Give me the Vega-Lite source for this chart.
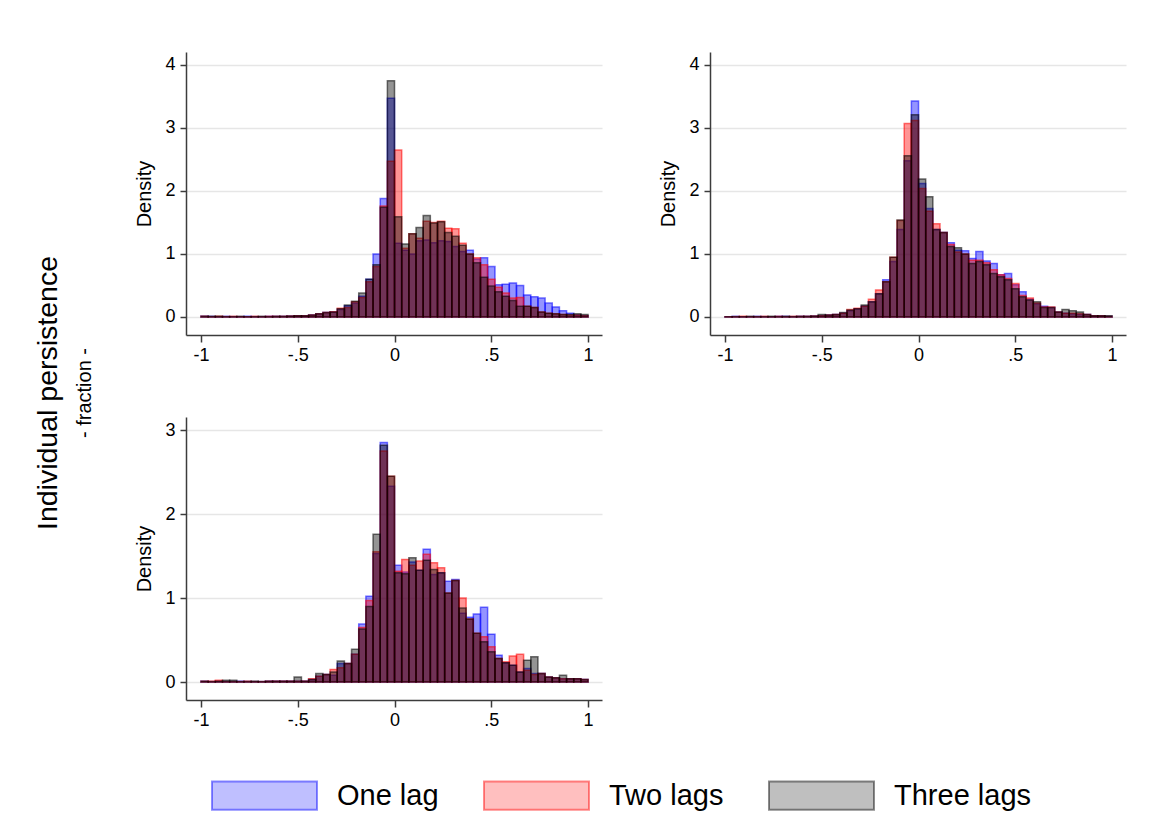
{
"$schema":"https://vega.github.io/schema/vega-lite/v6.json",
"background":"white",
"padding":{"left":34,"top":52,"right":5,"bottom":5},
"title":{"text":"Individual persistence","subtitle":"- fraction -","orient":"left","anchor":"middle","dx":40,"font":"Liberation Sans","fontSize":28.5,"fontWeight":"normal","color":"#000","subtitleFont":"Liberation Sans","subtitleFontSize":20,"subtitleColor":"#000","subtitlePadding":12,"offset":40},
"datasets":{
"p1":[
{"lag":"One lag","lo":-1,"hi":-0.963,"d":0.01},{"lag":"One lag","lo":-0.963,"hi":-0.926,"d":0.01},{"lag":"One lag","lo":-0.926,"hi":-0.889,"d":0.005},{"lag":"One lag","lo":-0.889,"hi":-0.852,"d":0.01},{"lag":"One lag","lo":-0.852,"hi":-0.815,"d":0.005},{"lag":"One lag","lo":-0.815,"hi":-0.778,"d":0.005},{"lag":"One lag","lo":-0.778,"hi":-0.741,"d":0.01},{"lag":"One lag","lo":-0.741,"hi":-0.704,"d":0.005},{"lag":"One lag","lo":-0.704,"hi":-0.667,"d":0.005},{"lag":"One lag","lo":-0.667,"hi":-0.63,"d":0.01},{"lag":"One lag","lo":-0.63,"hi":-0.593,"d":0.01},{"lag":"One lag","lo":-0.593,"hi":-0.556,"d":0.01},{"lag":"One lag","lo":-0.556,"hi":-0.519,"d":0.015},{"lag":"One lag","lo":-0.519,"hi":-0.481,"d":0.02},{"lag":"One lag","lo":-0.481,"hi":-0.444,"d":0.02},{"lag":"One lag","lo":-0.444,"hi":-0.407,"d":0.03},{"lag":"One lag","lo":-0.407,"hi":-0.37,"d":0.05},{"lag":"One lag","lo":-0.37,"hi":-0.333,"d":0.07},{"lag":"One lag","lo":-0.333,"hi":-0.296,"d":0.08},{"lag":"One lag","lo":-0.296,"hi":-0.259,"d":0.12},{"lag":"One lag","lo":-0.259,"hi":-0.222,"d":0.18},{"lag":"One lag","lo":-0.222,"hi":-0.185,"d":0.22},{"lag":"One lag","lo":-0.185,"hi":-0.148,"d":0.33},{"lag":"One lag","lo":-0.148,"hi":-0.111,"d":0.6},{"lag":"One lag","lo":-0.111,"hi":-0.074,"d":1.0},{"lag":"One lag","lo":-0.074,"hi":-0.037,"d":1.88},{"lag":"One lag","lo":-0.037,"hi":0,"d":3.47},{"lag":"One lag","lo":0,"hi":0.037,"d":1.17},{"lag":"One lag","lo":0.037,"hi":0.074,"d":1.06},{"lag":"One lag","lo":0.074,"hi":0.111,"d":1.0},{"lag":"One lag","lo":0.111,"hi":0.148,"d":1.21},{"lag":"One lag","lo":0.148,"hi":0.185,"d":1.22},{"lag":"One lag","lo":0.185,"hi":0.222,"d":1.18},{"lag":"One lag","lo":0.222,"hi":0.259,"d":1.21},{"lag":"One lag","lo":0.259,"hi":0.296,"d":1.2},{"lag":"One lag","lo":0.296,"hi":0.333,"d":1.12},{"lag":"One lag","lo":0.333,"hi":0.37,"d":1.04},{"lag":"One lag","lo":0.37,"hi":0.407,"d":1.06},{"lag":"One lag","lo":0.407,"hi":0.444,"d":0.92},{"lag":"One lag","lo":0.444,"hi":0.481,"d":0.94},{"lag":"One lag","lo":0.481,"hi":0.519,"d":0.8},{"lag":"One lag","lo":0.519,"hi":0.556,"d":0.51},{"lag":"One lag","lo":0.556,"hi":0.593,"d":0.52},{"lag":"One lag","lo":0.593,"hi":0.63,"d":0.54},{"lag":"One lag","lo":0.63,"hi":0.667,"d":0.5},{"lag":"One lag","lo":0.667,"hi":0.704,"d":0.35},{"lag":"One lag","lo":0.704,"hi":0.741,"d":0.32},{"lag":"One lag","lo":0.741,"hi":0.778,"d":0.3},{"lag":"One lag","lo":0.778,"hi":0.815,"d":0.22},{"lag":"One lag","lo":0.815,"hi":0.852,"d":0.16},{"lag":"One lag","lo":0.852,"hi":0.889,"d":0.1},{"lag":"One lag","lo":0.889,"hi":0.926,"d":0.06},{"lag":"One lag","lo":0.926,"hi":0.963,"d":0.03},{"lag":"One lag","lo":0.963,"hi":1,"d":0.02},
{"lag":"Two lags","lo":-1,"hi":-0.963,"d":0.01},{"lag":"Two lags","lo":-0.963,"hi":-0.926,"d":0.005},{"lag":"Two lags","lo":-0.926,"hi":-0.889,"d":0.01},{"lag":"Two lags","lo":-0.889,"hi":-0.852,"d":0.005},{"lag":"Two lags","lo":-0.852,"hi":-0.815,"d":0.01},{"lag":"Two lags","lo":-0.815,"hi":-0.778,"d":0.005},{"lag":"Two lags","lo":-0.778,"hi":-0.741,"d":0.005},{"lag":"Two lags","lo":-0.741,"hi":-0.704,"d":0.01},{"lag":"Two lags","lo":-0.704,"hi":-0.667,"d":0.005},{"lag":"Two lags","lo":-0.667,"hi":-0.63,"d":0.01},{"lag":"Two lags","lo":-0.63,"hi":-0.593,"d":0.01},{"lag":"Two lags","lo":-0.593,"hi":-0.556,"d":0.01},{"lag":"Two lags","lo":-0.556,"hi":-0.519,"d":0.015},{"lag":"Two lags","lo":-0.519,"hi":-0.481,"d":0.02},{"lag":"Two lags","lo":-0.481,"hi":-0.444,"d":0.02},{"lag":"Two lags","lo":-0.444,"hi":-0.407,"d":0.03},{"lag":"Two lags","lo":-0.407,"hi":-0.37,"d":0.05},{"lag":"Two lags","lo":-0.37,"hi":-0.333,"d":0.07},{"lag":"Two lags","lo":-0.333,"hi":-0.296,"d":0.085},{"lag":"Two lags","lo":-0.296,"hi":-0.259,"d":0.14},{"lag":"Two lags","lo":-0.259,"hi":-0.222,"d":0.15},{"lag":"Two lags","lo":-0.222,"hi":-0.185,"d":0.24},{"lag":"Two lags","lo":-0.185,"hi":-0.148,"d":0.31},{"lag":"Two lags","lo":-0.148,"hi":-0.111,"d":0.56},{"lag":"Two lags","lo":-0.111,"hi":-0.074,"d":0.8},{"lag":"Two lags","lo":-0.074,"hi":-0.037,"d":1.76},{"lag":"Two lags","lo":-0.037,"hi":0,"d":2.47},{"lag":"Two lags","lo":0,"hi":0.037,"d":2.65},{"lag":"Two lags","lo":0.037,"hi":0.074,"d":1.09},{"lag":"Two lags","lo":0.074,"hi":0.111,"d":1.32},{"lag":"Two lags","lo":0.111,"hi":0.148,"d":1.25},{"lag":"Two lags","lo":0.148,"hi":0.185,"d":1.52},{"lag":"Two lags","lo":0.185,"hi":0.222,"d":1.5},{"lag":"Two lags","lo":0.222,"hi":0.259,"d":1.52},{"lag":"Two lags","lo":0.259,"hi":0.296,"d":1.41},{"lag":"Two lags","lo":0.296,"hi":0.333,"d":1.4},{"lag":"Two lags","lo":0.333,"hi":0.37,"d":1.17},{"lag":"Two lags","lo":0.37,"hi":0.407,"d":1.0},{"lag":"Two lags","lo":0.407,"hi":0.444,"d":0.94},{"lag":"Two lags","lo":0.444,"hi":0.481,"d":0.83},{"lag":"Two lags","lo":0.481,"hi":0.519,"d":0.6},{"lag":"Two lags","lo":0.519,"hi":0.556,"d":0.47},{"lag":"Two lags","lo":0.556,"hi":0.593,"d":0.38},{"lag":"Two lags","lo":0.593,"hi":0.63,"d":0.3},{"lag":"Two lags","lo":0.63,"hi":0.667,"d":0.31},{"lag":"Two lags","lo":0.667,"hi":0.704,"d":0.17},{"lag":"Two lags","lo":0.704,"hi":0.741,"d":0.15},{"lag":"Two lags","lo":0.741,"hi":0.778,"d":0.08},{"lag":"Two lags","lo":0.778,"hi":0.815,"d":0.06},{"lag":"Two lags","lo":0.815,"hi":0.852,"d":0.05},{"lag":"Two lags","lo":0.852,"hi":0.889,"d":0.04},{"lag":"Two lags","lo":0.889,"hi":0.926,"d":0.03},{"lag":"Two lags","lo":0.926,"hi":0.963,"d":0.03},{"lag":"Two lags","lo":0.963,"hi":1,"d":0.02},
{"lag":"Three lags","lo":-1,"hi":-0.963,"d":0.01},{"lag":"Three lags","lo":-0.963,"hi":-0.926,"d":0.01},{"lag":"Three lags","lo":-0.926,"hi":-0.889,"d":0.01},{"lag":"Three lags","lo":-0.889,"hi":-0.852,"d":0.005},{"lag":"Three lags","lo":-0.852,"hi":-0.815,"d":0.005},{"lag":"Three lags","lo":-0.815,"hi":-0.778,"d":0.01},{"lag":"Three lags","lo":-0.778,"hi":-0.741,"d":0.005},{"lag":"Three lags","lo":-0.741,"hi":-0.704,"d":0.005},{"lag":"Three lags","lo":-0.704,"hi":-0.667,"d":0.01},{"lag":"Three lags","lo":-0.667,"hi":-0.63,"d":0.005},{"lag":"Three lags","lo":-0.63,"hi":-0.593,"d":0.01},{"lag":"Three lags","lo":-0.593,"hi":-0.556,"d":0.01},{"lag":"Three lags","lo":-0.556,"hi":-0.519,"d":0.015},{"lag":"Three lags","lo":-0.519,"hi":-0.481,"d":0.02},{"lag":"Three lags","lo":-0.481,"hi":-0.444,"d":0.02},{"lag":"Three lags","lo":-0.444,"hi":-0.407,"d":0.03},{"lag":"Three lags","lo":-0.407,"hi":-0.37,"d":0.05},{"lag":"Three lags","lo":-0.37,"hi":-0.333,"d":0.07},{"lag":"Three lags","lo":-0.333,"hi":-0.296,"d":0.08},{"lag":"Three lags","lo":-0.296,"hi":-0.259,"d":0.13},{"lag":"Three lags","lo":-0.259,"hi":-0.222,"d":0.19},{"lag":"Three lags","lo":-0.222,"hi":-0.185,"d":0.25},{"lag":"Three lags","lo":-0.185,"hi":-0.148,"d":0.38},{"lag":"Three lags","lo":-0.148,"hi":-0.111,"d":0.6},{"lag":"Three lags","lo":-0.111,"hi":-0.074,"d":0.83},{"lag":"Three lags","lo":-0.074,"hi":-0.037,"d":1.74},{"lag":"Three lags","lo":-0.037,"hi":0,"d":3.75},{"lag":"Three lags","lo":0,"hi":0.037,"d":1.59},{"lag":"Three lags","lo":0.037,"hi":0.074,"d":1.16},{"lag":"Three lags","lo":0.074,"hi":0.111,"d":1.32},{"lag":"Three lags","lo":0.111,"hi":0.148,"d":1.42},{"lag":"Three lags","lo":0.148,"hi":0.185,"d":1.61},{"lag":"Three lags","lo":0.185,"hi":0.222,"d":1.49},{"lag":"Three lags","lo":0.222,"hi":0.259,"d":1.51},{"lag":"Three lags","lo":0.259,"hi":0.296,"d":1.34},{"lag":"Three lags","lo":0.296,"hi":0.333,"d":1.28},{"lag":"Three lags","lo":0.333,"hi":0.37,"d":1.14},{"lag":"Three lags","lo":0.37,"hi":0.407,"d":1.0},{"lag":"Three lags","lo":0.407,"hi":0.444,"d":0.86},{"lag":"Three lags","lo":0.444,"hi":0.481,"d":0.63},{"lag":"Three lags","lo":0.481,"hi":0.519,"d":0.49},{"lag":"Three lags","lo":0.519,"hi":0.556,"d":0.4},{"lag":"Three lags","lo":0.556,"hi":0.593,"d":0.33},{"lag":"Three lags","lo":0.593,"hi":0.63,"d":0.26},{"lag":"Three lags","lo":0.63,"hi":0.667,"d":0.17},{"lag":"Three lags","lo":0.667,"hi":0.704,"d":0.17},{"lag":"Three lags","lo":0.704,"hi":0.741,"d":0.15},{"lag":"Three lags","lo":0.741,"hi":0.778,"d":0.08},{"lag":"Three lags","lo":0.778,"hi":0.815,"d":0.06},{"lag":"Three lags","lo":0.815,"hi":0.852,"d":0.05},{"lag":"Three lags","lo":0.852,"hi":0.889,"d":0.04},{"lag":"Three lags","lo":0.889,"hi":0.926,"d":0.04},{"lag":"Three lags","lo":0.926,"hi":0.963,"d":0.05},{"lag":"Three lags","lo":0.963,"hi":1,"d":0.04}
],
"p2":[
{"lag":"One lag","lo":-1,"hi":-0.963,"d":0.005},{"lag":"One lag","lo":-0.963,"hi":-0.926,"d":0.01},{"lag":"One lag","lo":-0.926,"hi":-0.889,"d":0.005},{"lag":"One lag","lo":-0.889,"hi":-0.852,"d":0.005},{"lag":"One lag","lo":-0.852,"hi":-0.815,"d":0.01},{"lag":"One lag","lo":-0.815,"hi":-0.778,"d":0.005},{"lag":"One lag","lo":-0.778,"hi":-0.741,"d":0.005},{"lag":"One lag","lo":-0.741,"hi":-0.704,"d":0.01},{"lag":"One lag","lo":-0.704,"hi":-0.667,"d":0.01},{"lag":"One lag","lo":-0.667,"hi":-0.63,"d":0.005},{"lag":"One lag","lo":-0.63,"hi":-0.593,"d":0.01},{"lag":"One lag","lo":-0.593,"hi":-0.556,"d":0.01},{"lag":"One lag","lo":-0.556,"hi":-0.519,"d":0.015},{"lag":"One lag","lo":-0.519,"hi":-0.481,"d":0.02},{"lag":"One lag","lo":-0.481,"hi":-0.444,"d":0.03},{"lag":"One lag","lo":-0.444,"hi":-0.407,"d":0.04},{"lag":"One lag","lo":-0.407,"hi":-0.37,"d":0.06},{"lag":"One lag","lo":-0.37,"hi":-0.333,"d":0.1},{"lag":"One lag","lo":-0.333,"hi":-0.296,"d":0.13},{"lag":"One lag","lo":-0.296,"hi":-0.259,"d":0.17},{"lag":"One lag","lo":-0.259,"hi":-0.222,"d":0.24},{"lag":"One lag","lo":-0.222,"hi":-0.185,"d":0.37},{"lag":"One lag","lo":-0.185,"hi":-0.148,"d":0.59},{"lag":"One lag","lo":-0.148,"hi":-0.111,"d":0.88},{"lag":"One lag","lo":-0.111,"hi":-0.074,"d":1.39},{"lag":"One lag","lo":-0.074,"hi":-0.037,"d":2.48},{"lag":"One lag","lo":-0.037,"hi":0,"d":3.43},{"lag":"One lag","lo":0,"hi":0.037,"d":2.12},{"lag":"One lag","lo":0.037,"hi":0.074,"d":1.72},{"lag":"One lag","lo":0.074,"hi":0.111,"d":1.39},{"lag":"One lag","lo":0.111,"hi":0.148,"d":1.34},{"lag":"One lag","lo":0.148,"hi":0.185,"d":1.18},{"lag":"One lag","lo":0.185,"hi":0.222,"d":1.06},{"lag":"One lag","lo":0.222,"hi":0.259,"d":1.05},{"lag":"One lag","lo":0.259,"hi":0.296,"d":0.93},{"lag":"One lag","lo":0.296,"hi":0.333,"d":1.04},{"lag":"One lag","lo":0.333,"hi":0.37,"d":0.89},{"lag":"One lag","lo":0.37,"hi":0.407,"d":0.85},{"lag":"One lag","lo":0.407,"hi":0.444,"d":0.67},{"lag":"One lag","lo":0.444,"hi":0.481,"d":0.69},{"lag":"One lag","lo":0.481,"hi":0.519,"d":0.51},{"lag":"One lag","lo":0.519,"hi":0.556,"d":0.4},{"lag":"One lag","lo":0.556,"hi":0.593,"d":0.28},{"lag":"One lag","lo":0.593,"hi":0.63,"d":0.21},{"lag":"One lag","lo":0.63,"hi":0.667,"d":0.17},{"lag":"One lag","lo":0.667,"hi":0.704,"d":0.15},{"lag":"One lag","lo":0.704,"hi":0.741,"d":0.08},{"lag":"One lag","lo":0.741,"hi":0.778,"d":0.06},{"lag":"One lag","lo":0.778,"hi":0.815,"d":0.05},{"lag":"One lag","lo":0.815,"hi":0.852,"d":0.04},{"lag":"One lag","lo":0.852,"hi":0.889,"d":0.04},{"lag":"One lag","lo":0.889,"hi":0.926,"d":0.02},{"lag":"One lag","lo":0.926,"hi":0.963,"d":0.02},{"lag":"One lag","lo":0.963,"hi":1,"d":0.01},
{"lag":"Two lags","lo":-1,"hi":-0.963,"d":0.005},{"lag":"Two lags","lo":-0.963,"hi":-0.926,"d":0.005},{"lag":"Two lags","lo":-0.926,"hi":-0.889,"d":0.01},{"lag":"Two lags","lo":-0.889,"hi":-0.852,"d":0.005},{"lag":"Two lags","lo":-0.852,"hi":-0.815,"d":0.005},{"lag":"Two lags","lo":-0.815,"hi":-0.778,"d":0.01},{"lag":"Two lags","lo":-0.778,"hi":-0.741,"d":0.005},{"lag":"Two lags","lo":-0.741,"hi":-0.704,"d":0.01},{"lag":"Two lags","lo":-0.704,"hi":-0.667,"d":0.005},{"lag":"Two lags","lo":-0.667,"hi":-0.63,"d":0.01},{"lag":"Two lags","lo":-0.63,"hi":-0.593,"d":0.01},{"lag":"Two lags","lo":-0.593,"hi":-0.556,"d":0.01},{"lag":"Two lags","lo":-0.556,"hi":-0.519,"d":0.015},{"lag":"Two lags","lo":-0.519,"hi":-0.481,"d":0.02},{"lag":"Two lags","lo":-0.481,"hi":-0.444,"d":0.03},{"lag":"Two lags","lo":-0.444,"hi":-0.407,"d":0.04},{"lag":"Two lags","lo":-0.407,"hi":-0.37,"d":0.06},{"lag":"Two lags","lo":-0.37,"hi":-0.333,"d":0.12},{"lag":"Two lags","lo":-0.333,"hi":-0.296,"d":0.14},{"lag":"Two lags","lo":-0.296,"hi":-0.259,"d":0.17},{"lag":"Two lags","lo":-0.259,"hi":-0.222,"d":0.28},{"lag":"Two lags","lo":-0.222,"hi":-0.185,"d":0.43},{"lag":"Two lags","lo":-0.185,"hi":-0.148,"d":0.56},{"lag":"Two lags","lo":-0.148,"hi":-0.111,"d":0.95},{"lag":"Two lags","lo":-0.111,"hi":-0.074,"d":1.53},{"lag":"Two lags","lo":-0.074,"hi":-0.037,"d":3.07},{"lag":"Two lags","lo":-0.037,"hi":0,"d":3.12},{"lag":"Two lags","lo":0,"hi":0.037,"d":2.04},{"lag":"Two lags","lo":0.037,"hi":0.074,"d":1.68},{"lag":"Two lags","lo":0.074,"hi":0.111,"d":1.48},{"lag":"Two lags","lo":0.111,"hi":0.148,"d":1.34},{"lag":"Two lags","lo":0.148,"hi":0.185,"d":1.15},{"lag":"Two lags","lo":0.185,"hi":0.222,"d":1.03},{"lag":"Two lags","lo":0.222,"hi":0.259,"d":1.0},{"lag":"Two lags","lo":0.259,"hi":0.296,"d":0.9},{"lag":"Two lags","lo":0.296,"hi":0.333,"d":0.9},{"lag":"Two lags","lo":0.333,"hi":0.37,"d":0.86},{"lag":"Two lags","lo":0.37,"hi":0.407,"d":0.75},{"lag":"Two lags","lo":0.407,"hi":0.444,"d":0.67},{"lag":"Two lags","lo":0.444,"hi":0.481,"d":0.61},{"lag":"Two lags","lo":0.481,"hi":0.519,"d":0.53},{"lag":"Two lags","lo":0.519,"hi":0.556,"d":0.34},{"lag":"Two lags","lo":0.556,"hi":0.593,"d":0.3},{"lag":"Two lags","lo":0.593,"hi":0.63,"d":0.22},{"lag":"Two lags","lo":0.63,"hi":0.667,"d":0.16},{"lag":"Two lags","lo":0.667,"hi":0.704,"d":0.16},{"lag":"Two lags","lo":0.704,"hi":0.741,"d":0.08},{"lag":"Two lags","lo":0.741,"hi":0.778,"d":0.06},{"lag":"Two lags","lo":0.778,"hi":0.815,"d":0.06},{"lag":"Two lags","lo":0.815,"hi":0.852,"d":0.05},{"lag":"Two lags","lo":0.852,"hi":0.889,"d":0.04},{"lag":"Two lags","lo":0.889,"hi":0.926,"d":0.02},{"lag":"Two lags","lo":0.926,"hi":0.963,"d":0.02},{"lag":"Two lags","lo":0.963,"hi":1,"d":0.01},
{"lag":"Three lags","lo":-1,"hi":-0.963,"d":0.005},{"lag":"Three lags","lo":-0.963,"hi":-0.926,"d":0.005},{"lag":"Three lags","lo":-0.926,"hi":-0.889,"d":0.005},{"lag":"Three lags","lo":-0.889,"hi":-0.852,"d":0.01},{"lag":"Three lags","lo":-0.852,"hi":-0.815,"d":0.005},{"lag":"Three lags","lo":-0.815,"hi":-0.778,"d":0.005},{"lag":"Three lags","lo":-0.778,"hi":-0.741,"d":0.01},{"lag":"Three lags","lo":-0.741,"hi":-0.704,"d":0.005},{"lag":"Three lags","lo":-0.704,"hi":-0.667,"d":0.01},{"lag":"Three lags","lo":-0.667,"hi":-0.63,"d":0.005},{"lag":"Three lags","lo":-0.63,"hi":-0.593,"d":0.01},{"lag":"Three lags","lo":-0.593,"hi":-0.556,"d":0.01},{"lag":"Three lags","lo":-0.556,"hi":-0.519,"d":0.015},{"lag":"Three lags","lo":-0.519,"hi":-0.481,"d":0.04},{"lag":"Three lags","lo":-0.481,"hi":-0.444,"d":0.03},{"lag":"Three lags","lo":-0.444,"hi":-0.407,"d":0.04},{"lag":"Three lags","lo":-0.407,"hi":-0.37,"d":0.07},{"lag":"Three lags","lo":-0.37,"hi":-0.333,"d":0.11},{"lag":"Three lags","lo":-0.333,"hi":-0.296,"d":0.13},{"lag":"Three lags","lo":-0.296,"hi":-0.259,"d":0.19},{"lag":"Three lags","lo":-0.259,"hi":-0.222,"d":0.24},{"lag":"Three lags","lo":-0.222,"hi":-0.185,"d":0.37},{"lag":"Three lags","lo":-0.185,"hi":-0.148,"d":0.56},{"lag":"Three lags","lo":-0.148,"hi":-0.111,"d":0.95},{"lag":"Three lags","lo":-0.111,"hi":-0.074,"d":1.54},{"lag":"Three lags","lo":-0.074,"hi":-0.037,"d":2.56},{"lag":"Three lags","lo":-0.037,"hi":0,"d":3.21},{"lag":"Three lags","lo":0,"hi":0.037,"d":2.19},{"lag":"Three lags","lo":0.037,"hi":0.074,"d":1.91},{"lag":"Three lags","lo":0.074,"hi":0.111,"d":1.39},{"lag":"Three lags","lo":0.111,"hi":0.148,"d":1.34},{"lag":"Three lags","lo":0.148,"hi":0.185,"d":1.12},{"lag":"Three lags","lo":0.185,"hi":0.222,"d":1.1},{"lag":"Three lags","lo":0.222,"hi":0.259,"d":1.0},{"lag":"Three lags","lo":0.259,"hi":0.296,"d":0.85},{"lag":"Three lags","lo":0.296,"hi":0.333,"d":0.88},{"lag":"Three lags","lo":0.333,"hi":0.37,"d":0.83},{"lag":"Three lags","lo":0.37,"hi":0.407,"d":0.69},{"lag":"Three lags","lo":0.407,"hi":0.444,"d":0.64},{"lag":"Three lags","lo":0.444,"hi":0.481,"d":0.59},{"lag":"Three lags","lo":0.481,"hi":0.519,"d":0.45},{"lag":"Three lags","lo":0.519,"hi":0.556,"d":0.32},{"lag":"Three lags","lo":0.556,"hi":0.593,"d":0.27},{"lag":"Three lags","lo":0.593,"hi":0.63,"d":0.24},{"lag":"Three lags","lo":0.63,"hi":0.667,"d":0.15},{"lag":"Three lags","lo":0.667,"hi":0.704,"d":0.15},{"lag":"Three lags","lo":0.704,"hi":0.741,"d":0.08},{"lag":"Three lags","lo":0.741,"hi":0.778,"d":0.12},{"lag":"Three lags","lo":0.778,"hi":0.815,"d":0.1},{"lag":"Three lags","lo":0.815,"hi":0.852,"d":0.08},{"lag":"Three lags","lo":0.852,"hi":0.889,"d":0.04},{"lag":"Three lags","lo":0.889,"hi":0.926,"d":0.02},{"lag":"Three lags","lo":0.926,"hi":0.963,"d":0.02},{"lag":"Three lags","lo":0.963,"hi":1,"d":0.02}
],
"p3":[
{"lag":"One lag","lo":-1,"hi":-0.963,"d":0.01},{"lag":"One lag","lo":-0.963,"hi":-0.926,"d":0.005},{"lag":"One lag","lo":-0.926,"hi":-0.889,"d":0.01},{"lag":"One lag","lo":-0.889,"hi":-0.852,"d":0.005},{"lag":"One lag","lo":-0.852,"hi":-0.815,"d":0.005},{"lag":"One lag","lo":-0.815,"hi":-0.778,"d":0.01},{"lag":"One lag","lo":-0.778,"hi":-0.741,"d":0.005},{"lag":"One lag","lo":-0.741,"hi":-0.704,"d":0.005},{"lag":"One lag","lo":-0.704,"hi":-0.667,"d":0.005},{"lag":"One lag","lo":-0.667,"hi":-0.63,"d":0.01},{"lag":"One lag","lo":-0.63,"hi":-0.593,"d":0.01},{"lag":"One lag","lo":-0.593,"hi":-0.556,"d":0.01},{"lag":"One lag","lo":-0.556,"hi":-0.519,"d":0.01},{"lag":"One lag","lo":-0.519,"hi":-0.481,"d":0.01},{"lag":"One lag","lo":-0.481,"hi":-0.444,"d":0.01},{"lag":"One lag","lo":-0.444,"hi":-0.407,"d":0.03},{"lag":"One lag","lo":-0.407,"hi":-0.37,"d":0.07},{"lag":"One lag","lo":-0.37,"hi":-0.333,"d":0.09},{"lag":"One lag","lo":-0.333,"hi":-0.296,"d":0.08},{"lag":"One lag","lo":-0.296,"hi":-0.259,"d":0.22},{"lag":"One lag","lo":-0.259,"hi":-0.222,"d":0.22},{"lag":"One lag","lo":-0.222,"hi":-0.185,"d":0.33},{"lag":"One lag","lo":-0.185,"hi":-0.148,"d":0.69},{"lag":"One lag","lo":-0.148,"hi":-0.111,"d":1.02},{"lag":"One lag","lo":-0.111,"hi":-0.074,"d":1.53},{"lag":"One lag","lo":-0.074,"hi":-0.037,"d":2.85},{"lag":"One lag","lo":-0.037,"hi":0,"d":2.33},{"lag":"One lag","lo":0,"hi":0.037,"d":1.39},{"lag":"One lag","lo":0.037,"hi":0.074,"d":1.31},{"lag":"One lag","lo":0.074,"hi":0.111,"d":1.43},{"lag":"One lag","lo":0.111,"hi":0.148,"d":1.33},{"lag":"One lag","lo":0.148,"hi":0.185,"d":1.58},{"lag":"One lag","lo":0.185,"hi":0.222,"d":1.28},{"lag":"One lag","lo":0.222,"hi":0.259,"d":1.3},{"lag":"One lag","lo":0.259,"hi":0.296,"d":1.2},{"lag":"One lag","lo":0.296,"hi":0.333,"d":1.22},{"lag":"One lag","lo":0.333,"hi":0.37,"d":0.82},{"lag":"One lag","lo":0.37,"hi":0.407,"d":0.77},{"lag":"One lag","lo":0.407,"hi":0.444,"d":0.81},{"lag":"One lag","lo":0.444,"hi":0.481,"d":0.89},{"lag":"One lag","lo":0.481,"hi":0.519,"d":0.57},{"lag":"One lag","lo":0.519,"hi":0.556,"d":0.32},{"lag":"One lag","lo":0.556,"hi":0.593,"d":0.23},{"lag":"One lag","lo":0.593,"hi":0.63,"d":0.2},{"lag":"One lag","lo":0.63,"hi":0.667,"d":0.12},{"lag":"One lag","lo":0.667,"hi":0.704,"d":0.16},{"lag":"One lag","lo":0.704,"hi":0.741,"d":0.1},{"lag":"One lag","lo":0.741,"hi":0.778,"d":0.1},{"lag":"One lag","lo":0.778,"hi":0.815,"d":0.06},{"lag":"One lag","lo":0.815,"hi":0.852,"d":0.05},{"lag":"One lag","lo":0.852,"hi":0.889,"d":0.04},{"lag":"One lag","lo":0.889,"hi":0.926,"d":0.04},{"lag":"One lag","lo":0.926,"hi":0.963,"d":0.04},{"lag":"One lag","lo":0.963,"hi":1,"d":0.03},
{"lag":"Two lags","lo":-1,"hi":-0.963,"d":0.01},{"lag":"Two lags","lo":-0.963,"hi":-0.926,"d":0.01},{"lag":"Two lags","lo":-0.926,"hi":-0.889,"d":0.02},{"lag":"Two lags","lo":-0.889,"hi":-0.852,"d":0.005},{"lag":"Two lags","lo":-0.852,"hi":-0.815,"d":0.005},{"lag":"Two lags","lo":-0.815,"hi":-0.778,"d":0.005},{"lag":"Two lags","lo":-0.778,"hi":-0.741,"d":0.01},{"lag":"Two lags","lo":-0.741,"hi":-0.704,"d":0.005},{"lag":"Two lags","lo":-0.704,"hi":-0.667,"d":0.005},{"lag":"Two lags","lo":-0.667,"hi":-0.63,"d":0.01},{"lag":"Two lags","lo":-0.63,"hi":-0.593,"d":0.01},{"lag":"Two lags","lo":-0.593,"hi":-0.556,"d":0.01},{"lag":"Two lags","lo":-0.556,"hi":-0.519,"d":0.01},{"lag":"Two lags","lo":-0.519,"hi":-0.481,"d":0.01},{"lag":"Two lags","lo":-0.481,"hi":-0.444,"d":0.01},{"lag":"Two lags","lo":-0.444,"hi":-0.407,"d":0.04},{"lag":"Two lags","lo":-0.407,"hi":-0.37,"d":0.07},{"lag":"Two lags","lo":-0.37,"hi":-0.333,"d":0.09},{"lag":"Two lags","lo":-0.333,"hi":-0.296,"d":0.15},{"lag":"Two lags","lo":-0.296,"hi":-0.259,"d":0.17},{"lag":"Two lags","lo":-0.259,"hi":-0.222,"d":0.22},{"lag":"Two lags","lo":-0.222,"hi":-0.185,"d":0.33},{"lag":"Two lags","lo":-0.185,"hi":-0.148,"d":0.65},{"lag":"Two lags","lo":-0.148,"hi":-0.111,"d":0.97},{"lag":"Two lags","lo":-0.111,"hi":-0.074,"d":1.55},{"lag":"Two lags","lo":-0.074,"hi":-0.037,"d":2.75},{"lag":"Two lags","lo":-0.037,"hi":0,"d":2.45},{"lag":"Two lags","lo":0,"hi":0.037,"d":1.32},{"lag":"Two lags","lo":0.037,"hi":0.074,"d":1.46},{"lag":"Two lags","lo":0.074,"hi":0.111,"d":1.39},{"lag":"Two lags","lo":0.111,"hi":0.148,"d":1.44},{"lag":"Two lags","lo":0.148,"hi":0.185,"d":1.52},{"lag":"Two lags","lo":0.185,"hi":0.222,"d":1.42},{"lag":"Two lags","lo":0.222,"hi":0.259,"d":1.36},{"lag":"Two lags","lo":0.259,"hi":0.296,"d":1.06},{"lag":"Two lags","lo":0.296,"hi":0.333,"d":1.21},{"lag":"Two lags","lo":0.333,"hi":0.37,"d":1.0},{"lag":"Two lags","lo":0.37,"hi":0.407,"d":0.75},{"lag":"Two lags","lo":0.407,"hi":0.444,"d":0.58},{"lag":"Two lags","lo":0.444,"hi":0.481,"d":0.54},{"lag":"Two lags","lo":0.481,"hi":0.519,"d":0.42},{"lag":"Two lags","lo":0.519,"hi":0.556,"d":0.28},{"lag":"Two lags","lo":0.556,"hi":0.593,"d":0.24},{"lag":"Two lags","lo":0.593,"hi":0.63,"d":0.31},{"lag":"Two lags","lo":0.63,"hi":0.667,"d":0.33},{"lag":"Two lags","lo":0.667,"hi":0.704,"d":0.14},{"lag":"Two lags","lo":0.704,"hi":0.741,"d":0.09},{"lag":"Two lags","lo":0.741,"hi":0.778,"d":0.1},{"lag":"Two lags","lo":0.778,"hi":0.815,"d":0.06},{"lag":"Two lags","lo":0.815,"hi":0.852,"d":0.05},{"lag":"Two lags","lo":0.852,"hi":0.889,"d":0.04},{"lag":"Two lags","lo":0.889,"hi":0.926,"d":0.04},{"lag":"Two lags","lo":0.926,"hi":0.963,"d":0.04},{"lag":"Two lags","lo":0.963,"hi":1,"d":0.03},
{"lag":"Three lags","lo":-1,"hi":-0.963,"d":0.01},{"lag":"Three lags","lo":-0.963,"hi":-0.926,"d":0.005},{"lag":"Three lags","lo":-0.926,"hi":-0.889,"d":0.01},{"lag":"Three lags","lo":-0.889,"hi":-0.852,"d":0.02},{"lag":"Three lags","lo":-0.852,"hi":-0.815,"d":0.02},{"lag":"Three lags","lo":-0.815,"hi":-0.778,"d":0.005},{"lag":"Three lags","lo":-0.778,"hi":-0.741,"d":0.005},{"lag":"Three lags","lo":-0.741,"hi":-0.704,"d":0.01},{"lag":"Three lags","lo":-0.704,"hi":-0.667,"d":0.005},{"lag":"Three lags","lo":-0.667,"hi":-0.63,"d":0.01},{"lag":"Three lags","lo":-0.63,"hi":-0.593,"d":0.01},{"lag":"Three lags","lo":-0.593,"hi":-0.556,"d":0.01},{"lag":"Three lags","lo":-0.556,"hi":-0.519,"d":0.01},{"lag":"Three lags","lo":-0.519,"hi":-0.481,"d":0.06},{"lag":"Three lags","lo":-0.481,"hi":-0.444,"d":0.01},{"lag":"Three lags","lo":-0.444,"hi":-0.407,"d":0.03},{"lag":"Three lags","lo":-0.407,"hi":-0.37,"d":0.1},{"lag":"Three lags","lo":-0.37,"hi":-0.333,"d":0.09},{"lag":"Three lags","lo":-0.333,"hi":-0.296,"d":0.12},{"lag":"Three lags","lo":-0.296,"hi":-0.259,"d":0.25},{"lag":"Three lags","lo":-0.259,"hi":-0.222,"d":0.22},{"lag":"Three lags","lo":-0.222,"hi":-0.185,"d":0.39},{"lag":"Three lags","lo":-0.185,"hi":-0.148,"d":0.63},{"lag":"Three lags","lo":-0.148,"hi":-0.111,"d":0.9},{"lag":"Three lags","lo":-0.111,"hi":-0.074,"d":1.76},{"lag":"Three lags","lo":-0.074,"hi":-0.037,"d":2.82},{"lag":"Three lags","lo":-0.037,"hi":0,"d":2.45},{"lag":"Three lags","lo":0,"hi":0.037,"d":1.3},{"lag":"Three lags","lo":0.037,"hi":0.074,"d":1.29},{"lag":"Three lags","lo":0.074,"hi":0.111,"d":1.48},{"lag":"Three lags","lo":0.111,"hi":0.148,"d":1.33},{"lag":"Three lags","lo":0.148,"hi":0.185,"d":1.45},{"lag":"Three lags","lo":0.185,"hi":0.222,"d":1.34},{"lag":"Three lags","lo":0.222,"hi":0.259,"d":1.3},{"lag":"Three lags","lo":0.259,"hi":0.296,"d":1.06},{"lag":"Three lags","lo":0.296,"hi":0.333,"d":1.21},{"lag":"Three lags","lo":0.333,"hi":0.37,"d":0.88},{"lag":"Three lags","lo":0.37,"hi":0.407,"d":0.75},{"lag":"Three lags","lo":0.407,"hi":0.444,"d":0.58},{"lag":"Three lags","lo":0.444,"hi":0.481,"d":0.48},{"lag":"Three lags","lo":0.481,"hi":0.519,"d":0.36},{"lag":"Three lags","lo":0.519,"hi":0.556,"d":0.28},{"lag":"Three lags","lo":0.556,"hi":0.593,"d":0.23},{"lag":"Three lags","lo":0.593,"hi":0.63,"d":0.2},{"lag":"Three lags","lo":0.63,"hi":0.667,"d":0.12},{"lag":"Three lags","lo":0.667,"hi":0.704,"d":0.26},{"lag":"Three lags","lo":0.704,"hi":0.741,"d":0.3},{"lag":"Three lags","lo":0.741,"hi":0.778,"d":0.1},{"lag":"Three lags","lo":0.778,"hi":0.815,"d":0.06},{"lag":"Three lags","lo":0.815,"hi":0.852,"d":0.05},{"lag":"Three lags","lo":0.852,"hi":0.889,"d":0.08},{"lag":"Three lags","lo":0.889,"hi":0.926,"d":0.04},{"lag":"Three lags","lo":0.926,"hi":0.963,"d":0.04},{"lag":"Three lags","lo":0.963,"hi":1,"d":0.03}
]
},
"config":{
"view":{"stroke":null},
"font":"Liberation Sans",
"axis":{"labelFont":"Liberation Sans","titleFont":"Liberation Sans","labelColor":"#000","titleColor":"#000","domainColor":"#3c3c3c","tickColor":"#3c3c3c","domainWidth":1.5,"tickWidth":1.5,"labelFontSize":18,"titleFontSize":20,"titleFontWeight":"normal","gridColor":"#e6e6e6","gridWidth":1.5},
"legend":{"labelFont":"Liberation Sans","labelFontSize":29,"labelColor":"#000","symbolType":"M-1,-0.27H1V0.27H-1Z","symbolSize":11025,"symbolStrokeWidth":2,"labelOffset":19,"columnPadding":41,"direction":"horizontal","orient":"none","padding":0}
},
"vconcat":[
{"hconcat":[
{"width":416,"height":283,"data":{"name":"p1"},
"mark":{"type":"bar","fillOpacity":0.42,"strokeOpacity":0.55,"strokeWidth":1.5},
"encoding":{
"x":{"field":"lo","type":"quantitative","scale":{"domain":[-1.0775,1.072],"nice":false,"zero":false},"axis":{"values":[-1,-0.5,0,0.5,1],"labelExpr":"datum.value == 0 ? '0' : datum.value == 1 ? '1' : datum.value == -1 ? '-1' : datum.value == 0.5 ? '.5' : '-.5'","title":null,"grid":false,"tickSize":7,"labelPadding":4}},
"x2":{"field":"hi"},
"y":{"field":"d","type":"quantitative","scale":{"domain":[-0.286,4.206],"nice":false,"zero":false},"axis":{"values":[0,1,2,3,4],"title":"Density","grid":true,"tickSize":6,"labelPadding":5,"titlePadding":10,"labelAngle":0}},
"y2":{"datum":0},
"fill":{"field":"lag","type":"nominal","scale":{"domain":["One lag","Two lags","Three lags"],"range":["#0000ff","#ff0000","#000000"]},"legend":{"title":null,"legendX":25,"legendY":690,"encode":{"symbols":{"update":{"fillOpacity":{"value":0.25},"strokeOpacity":{"value":0.45}}}}}},
"stroke":{"field":"lag","type":"nominal","scale":{"domain":["One lag","Two lags","Three lags"],"range":["#0000ff","#ff0000","#000000"]},"legend":{"title":null,"legendX":25,"legendY":690,"encode":{"symbols":{"update":{"fillOpacity":{"value":0.25},"strokeOpacity":{"value":0.45}}}}}}
}},
{"width":416,"height":283,"data":{"name":"p2"},
"mark":{"type":"bar","fillOpacity":0.42,"strokeOpacity":0.55,"strokeWidth":1.5},
"encoding":{
"x":{"field":"lo","type":"quantitative","scale":{"domain":[-1.0775,1.072],"nice":false,"zero":false},"axis":{"values":[-1,-0.5,0,0.5,1],"labelExpr":"datum.value == 0 ? '0' : datum.value == 1 ? '1' : datum.value == -1 ? '-1' : datum.value == 0.5 ? '.5' : '-.5'","title":null,"grid":false,"tickSize":7,"labelPadding":4}},
"x2":{"field":"hi"},
"y":{"field":"d","type":"quantitative","scale":{"domain":[-0.286,4.206],"nice":false,"zero":false},"axis":{"values":[0,1,2,3,4],"title":"Density","grid":true,"tickSize":6,"labelPadding":5,"titlePadding":10,"labelAngle":0}},
"y2":{"datum":0},
"fill":{"field":"lag","type":"nominal","scale":{"domain":["One lag","Two lags","Three lags"],"range":["#0000ff","#ff0000","#000000"]},"legend":{"title":null,"legendX":25,"legendY":690,"encode":{"symbols":{"update":{"fillOpacity":{"value":0.25},"strokeOpacity":{"value":0.45}}}}}},
"stroke":{"field":"lag","type":"nominal","scale":{"domain":["One lag","Two lags","Three lags"],"range":["#0000ff","#ff0000","#000000"]},"legend":{"title":null,"legendX":25,"legendY":690,"encode":{"symbols":{"update":{"fillOpacity":{"value":0.25},"strokeOpacity":{"value":0.45}}}}}}
}}
],"spacing":56},
{"width":416,"height":283,"data":{"name":"p3"},
"mark":{"type":"bar","fillOpacity":0.42,"strokeOpacity":0.55,"strokeWidth":1.5},
"encoding":{
"x":{"field":"lo","type":"quantitative","scale":{"domain":[-1.0775,1.072],"nice":false,"zero":false},"axis":{"values":[-1,-0.5,0,0.5,1],"labelExpr":"datum.value == 0 ? '0' : datum.value == 1 ? '1' : datum.value == -1 ? '-1' : datum.value == 0.5 ? '.5' : '-.5'","title":null,"grid":false,"tickSize":7,"labelPadding":4}},
"x2":{"field":"hi"},
"y":{"field":"d","type":"quantitative","scale":{"domain":[-0.214,3.155],"nice":false,"zero":false},"axis":{"values":[0,1,2,3],"title":"Density","grid":true,"tickSize":6,"labelPadding":5,"titlePadding":10,"labelAngle":0}},
"y2":{"datum":0},
"fill":{"field":"lag","type":"nominal","scale":{"domain":["One lag","Two lags","Three lags"],"range":["#0000ff","#ff0000","#000000"]},"legend":{"title":null,"legendX":25,"legendY":690,"encode":{"symbols":{"update":{"fillOpacity":{"value":0.25},"strokeOpacity":{"value":0.45}}}}}},
"stroke":{"field":"lag","type":"nominal","scale":{"domain":["One lag","Two lags","Three lags"],"range":["#0000ff","#ff0000","#000000"]},"legend":{"title":null,"legendX":25,"legendY":690,"encode":{"symbols":{"update":{"fillOpacity":{"value":0.25},"strokeOpacity":{"value":0.45}}}}}}
}}
],
"spacing":53,
"resolve":{"scale":{"fill":"shared","stroke":"shared","x":"independent","y":"independent"},"legend":{"fill":"shared","stroke":"shared"}}
}
